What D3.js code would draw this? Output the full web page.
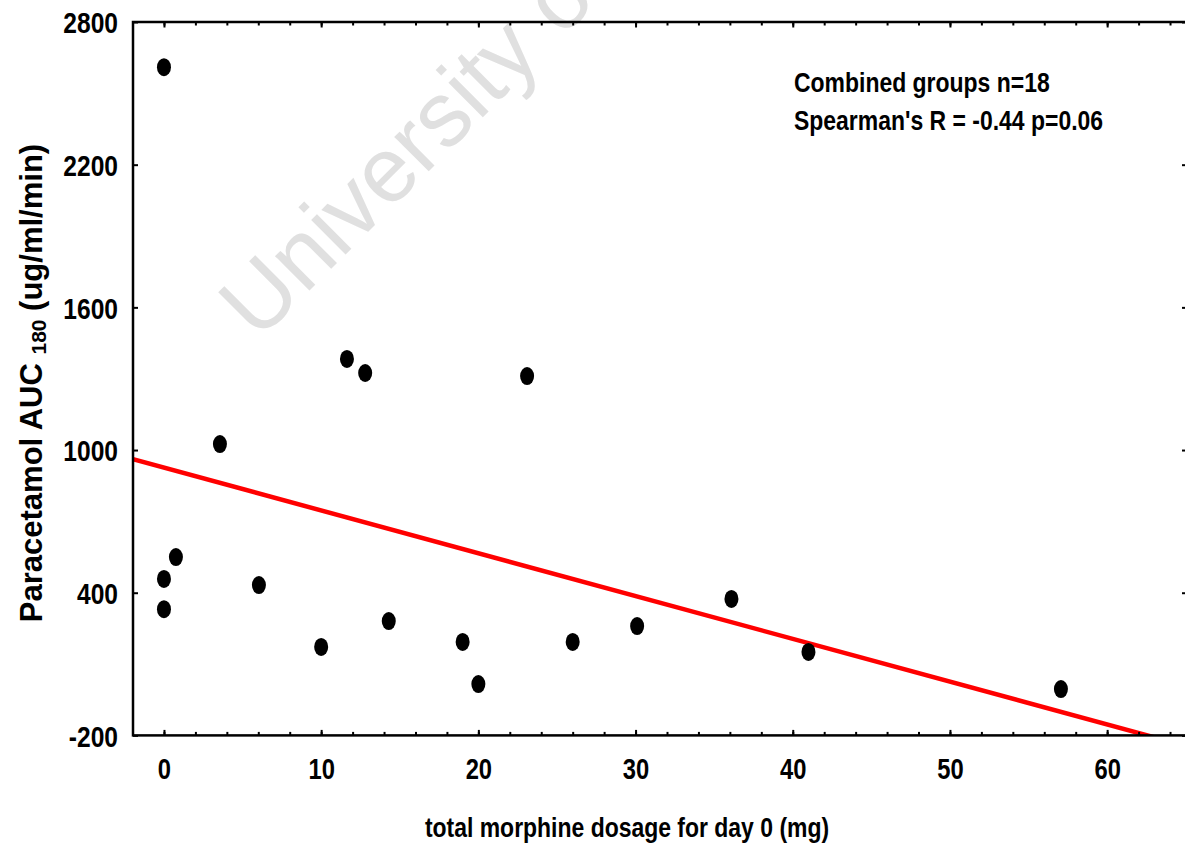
<!DOCTYPE html>
<html>
<head>
<meta charset="utf-8">
<script src="https://cdn.jsdelivr.net/npm/d3@7"></script>
<style>
  html, body { margin: 0; padding: 0; background: #fff; }
  svg { display: block; }
</style>
</head>
<body>
<svg id="chart" width="1185" height="847"></svg>
<script>
// ---- data ----
const morphineDose = [0, 0, 0, 0.76, 3.56, 6.04, 10, 11.64, 12.8, 14.3, 19.0, 20.0, 23.1, 26.0, 30.1, 36.1, 41.0, 57.06];
const paracetamolAUC = [2610, 331, 458, 550, 1025, 432, 172, 1383, 1324, 281, 193, 16, 1311, 193, 260, 374, 151, -5];
const xTickValues = [0, 10, 20, 30, 40, 50, 60];
const yTickValues = [-200, 400, 1000, 1600, 2200, 2800];
const regressionIntercept = 926;
const regressionSlope = -18.0;
const annotationLines = ["Combined groups n=18", "Spearman's R = -0.44 p=0.06"];
const xAxisTitle = "total morphine dosage for day 0 (mg)";
const watermarkText = "University of Cape Town";

// ---- layout ----
const plotL = 133, plotR = 1187, plotT = 22, plotB = 735.4;
const sans = "'Liberation Sans', Arial, sans-serif";
const NARROW = 0.82; // horizontal compression to mimic Arial Narrow

const svg = d3.select("#chart");

const x = d3.scaleLinear().domain([-1.97, 65.08]).range([plotL, plotR]);
const y = d3.scaleLinear().domain([-200, 2800]).range([plotB, plotT]);
const fmt = d => String(d); // plain hyphen for negatives

// watermark
svg.append("text")
  .attr("transform", "translate(258,342) rotate(-45)")
  .attr("font-family", sans)
  .attr("font-size", 92)
  .attr("fill", "#e0e0e0")
  .text(watermarkText);

svg.append("defs").append("clipPath").attr("id", "plotclip")
  .append("rect").attr("x", plotL).attr("y", plotT).attr("width", plotR - plotL).attr("height", plotB - plotT);

// regression line
const xr = x.domain();
svg.append("line")
  .attr("clip-path", "url(#plotclip)")
  .attr("x1", x(xr[0])).attr("y1", y(regressionIntercept + regressionSlope * xr[0]))
  .attr("x2", x(xr[1])).attr("y2", y(regressionIntercept + regressionSlope * xr[1]))
  .attr("stroke", "#ff0000").attr("stroke-width", 4.5);

// points
svg.append("g").selectAll("ellipse")
  .data(morphineDose.map((d, i) => [d, paracetamolAUC[i]]))
  .join("ellipse")
  .attr("cx", d => x(d[0])).attr("cy", d => y(d[1]))
  .attr("rx", 7).attr("ry", 9)
  .attr("fill", "#000");

// axes
const minorX = d3.range(0, 66, 2);
function styleAxis(g) {
  g.select(".domain").remove();
  g.selectAll("line").attr("stroke", "#000").attr("stroke-width", 2);
}
// bottom: major + minor inward
svg.append("g").attr("transform", `translate(0,${plotB})`)
  .call(d3.axisBottom(x).tickValues(minorX).tickSize(-3.5).tickFormat(""))
  .call(styleAxis);
svg.append("g").attr("transform", `translate(0,${plotB})`)
  .call(d3.axisBottom(x).tickValues(xTickValues).tickSize(-5.5).tickPadding(0).tickFormat(fmt))
  .call(styleAxis)
  .call(g => g.selectAll("text")
    .attr("font-family", sans).attr("font-weight", "bold").attr("font-size", 29)
    .attr("fill", "#000").attr("dy", null).attr("y", 44)
    .attr("transform", `scale(${NARROW},1)`));
// top
svg.append("g").attr("transform", `translate(0,${plotT})`)
  .call(d3.axisTop(x).tickValues(minorX).tickSize(-3.5).tickFormat(""))
  .call(styleAxis);
svg.append("g").attr("transform", `translate(0,${plotT})`)
  .call(d3.axisTop(x).tickValues(xTickValues).tickSize(-5.5).tickFormat(""))
  .call(styleAxis);
// left
svg.append("g").attr("transform", `translate(${plotL},0)`)
  .call(d3.axisLeft(y).tickValues(yTickValues).tickSize(-5).tickPadding(0).tickFormat(fmt))
  .call(styleAxis)
  .call(g => g.selectAll("text")
    .attr("font-family", sans).attr("font-weight", "bold").attr("font-size", 30)
    .attr("fill", "#000").attr("x", -15 / NARROW).attr("dy", "0.36em")
    .attr("transform", `scale(${NARROW},1)`));
// right
svg.append("g").attr("transform", `translate(${plotR},0)`)
  .call(d3.axisRight(y).tickValues(yTickValues).tickSize(-5).tickFormat(""))
  .call(styleAxis);

// frame
svg.append("rect")
  .attr("x", plotL).attr("y", plotT).attr("width", plotR - plotL).attr("height", plotB - plotT)
  .attr("fill", "none").attr("stroke", "#000").attr("stroke-width", 2.5);

// annotation
svg.append("g").selectAll("text")
  .data(annotationLines)
  .join("text")
  .attr("transform", (d, i) => `translate(794,${92 + i * 38}) scale(${NARROW},1)`)
  .attr("font-family", sans).attr("font-weight", "bold").attr("font-size", 28)
  .attr("fill", "#000")
  .text(d => d);

// x axis title
svg.append("text")
  .attr("transform", `translate(627,837) scale(${NARROW},1)`)
  .attr("text-anchor", "middle")
  .attr("font-family", sans).attr("font-weight", "bold").attr("font-size", 28)
  .attr("fill", "#000")
  .text(xAxisTitle);

// y axis title
const yt = svg.append("text")
  .attr("transform", "translate(42,383) rotate(-90)")
  .attr("text-anchor", "middle")
  .attr("font-family", sans)
  .attr("font-weight", "bold").attr("font-size", 31)
  .attr("fill", "#000");
yt.append("tspan").text("Paracetamol AUC ");
yt.append("tspan").attr("font-size", 21).attr("dy", 4).text("180");
yt.append("tspan").attr("dy", -4).text(" (ug/ml/min)");
</script>
</body>
</html>
